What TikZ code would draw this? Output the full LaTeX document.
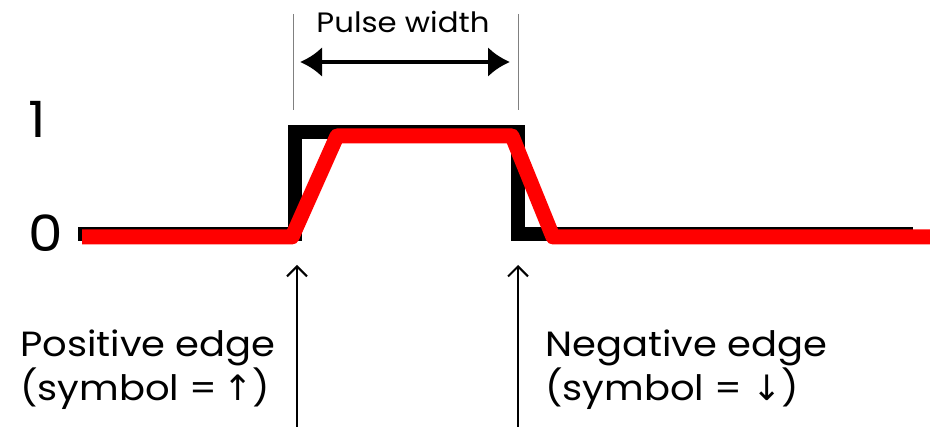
\documentclass[tikz,border=0pt]{standalone}
\usepackage{fontspec}
\setmainfont{Poppins}[FakeStretch=1.1]
\newfontfamily\symfont{DejaVu Sans}
\usetikzlibrary{arrows.meta,positioning}
\definecolor{pulsered}{HTML}{FF0000}
\definecolor{guidegray}{HTML}{808080}

\begin{document}
\begin{tikzpicture}[x=1pt,y=-1pt,every node/.style={inner sep=0pt,anchor=base west}]
\useasboundingbox (0,0) rectangle (930,427);
% level labels
\node[font=\fontsize{50}{56}\selectfont] (one) at (28,138) {1};
\node[font=\fontsize{50}{56}\selectfont] (zero) at (28,252) {0};
% ideal pulse
\draw[line width=14pt,miter limit=4] (78,234) -- (295,234) -- (295,132) -- (518,132) -- (518,234) -- (913,234);
% real pulse
\draw[pulsered,line width=15pt,line join=round] (82,237) -- (292,237) -- (337,136) -- (512,136) -- (553,237) -- (930,237);
% pulse width
\coordinate (pwL) at (300,62);
\coordinate (pwR) at (510,62);
\draw[guidegray,line width=1pt] (293,14) -- (293,110);
\draw[guidegray,line width=1pt] (518,14) -- (518,110);
\draw[{Latex[length=22pt,width=30pt]}-{Latex[length=22pt,width=30pt]},line width=4pt] (pwL) -- (pwR);
\node[font=\fontsize{28}{32}\selectfont,anchor=base] (pw) at (403,33) {Pulse width};
% edges
\node[font=\fontsize{35}{40}\selectfont] (pos) at (20,357) {Positive edge};
\node[font=\fontsize{35}{40}\selectfont] (possym) at (20,401) {(symbol =\,{\symfont ↑})};
\node[font=\fontsize{35}{40}\selectfont] (neg) at (545,357) {Negative edge};
\node[font=\fontsize{35}{40}\selectfont] (negsym) at (545,401) {(symbol = {\symfont ↓})};
\coordinate (posTip) at (297,265);
\coordinate (negTip) at (518,265);
\draw[-{Straight Barb[length=10pt,width=20pt]},line width=2pt] (297,427) -- (posTip);
\draw[-{Straight Barb[length=10pt,width=20pt]},line width=2pt] (518,427) -- (negTip);
\end{tikzpicture}
\end{document}
